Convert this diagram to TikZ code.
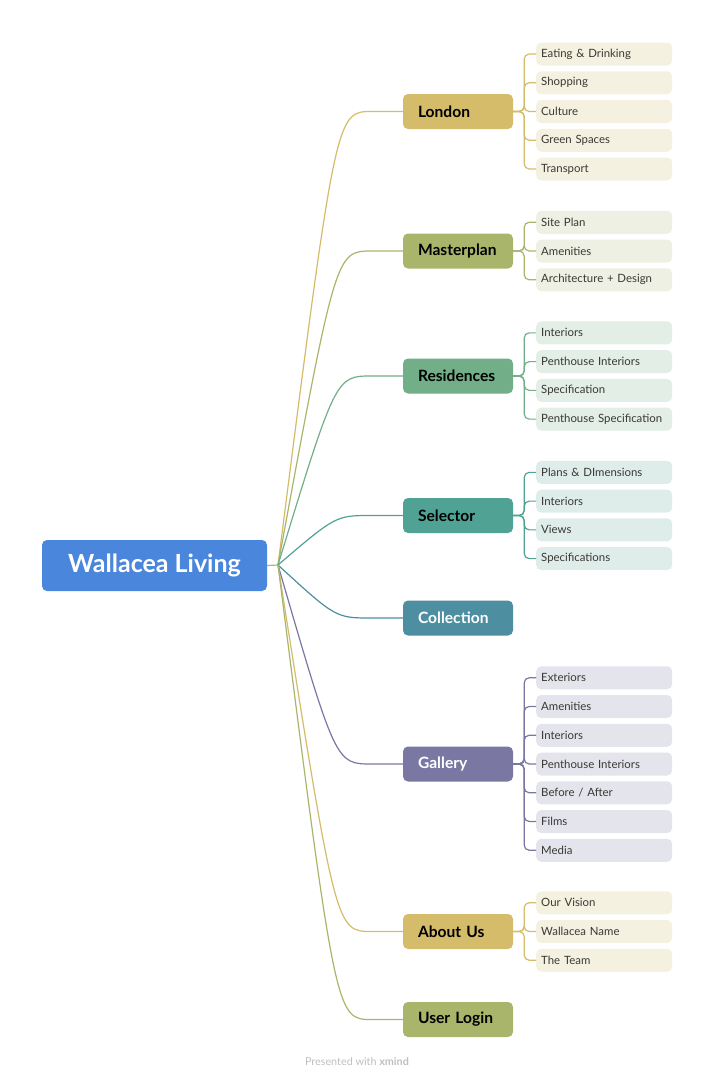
\documentclass[tikz,border=0pt]{standalone}
\usepackage{fontspec}
\setmainfont{Lato}
\usetikzlibrary{positioning, calc}
\definecolor{wlblue}{HTML}{4A86DB}
\definecolor{wlgold}{HTML}{D4BC6A}
\definecolor{wlgoldbg}{HTML}{F5F1E1}
\definecolor{wlolive}{HTML}{A9B56A}
\definecolor{wlolivebg}{HTML}{EEF0E3}
\definecolor{wlgreen}{HTML}{72AE87}
\definecolor{wlgreenbg}{HTML}{E2EEE6}
\definecolor{wlteal}{HTML}{50A294}
\definecolor{wltealbg}{HTML}{DEEDEA}
\definecolor{wlpetrol}{HTML}{4D8FA0}
\definecolor{wlpurple}{HTML}{7A77A3}
\definecolor{wlpurplebg}{HTML}{E4E4EC}
\definecolor{wltext}{HTML}{3A3833}
\tikzset{
  rootbox/.style={
    rectangle, rounded corners=5pt, fill=wlblue, text=white,
    minimum width=225pt, minimum height=51pt,
    font=\fontsize{25}{29}\selectfont\bfseries
  },
  topicbox/.style={
    rectangle, rounded corners=5pt,
    text width=80pt, align=left, inner xsep=15pt,
    minimum height=35pt,
    font=\fontsize{15.6}{18}\selectfont\bfseries
  },
  subbox/.style={
    rectangle, rounded corners=5pt, text=wltext,
    text width=126pt, align=left, inner xsep=5pt, inner ysep=0pt,
    minimum height=23pt,
    font=\fontsize{11.4}{13}\selectfont
  },
  branch/.style={line width=1.2pt},
  bracket/.style={line width=1.2pt, rounded corners=5pt},
}

\begin{document}
\begin{tikzpicture}[x=1pt, y=-1pt]
  \useasboundingbox (0,0) rectangle (715,1080);

  \node[rootbox] (root) at (154.5,565.5) {Wallacea Living};
  \coordinate (hub) at (278,565);

  % main topics
  \node[topicbox, fill=wlgold]                (london)  at (458,111.5) {London};
  \node[topicbox, fill=wlolive]               (master)  at (458,251)   {Masterplan};
  \node[topicbox, fill=wlgreen]               (resid)   at (458,376)   {Residences};
  \node[topicbox, fill=wlteal]                (select)  at (458,515.5) {Selector};
  \node[topicbox, fill=wlpetrol, text=white]  (collect) at (458,618)   {Collection};
  \node[topicbox, fill=wlpurple, text=white]  (gallery) at (458,764)   {Gallery};
  \node[topicbox, fill=wlgold]                (about)   at (458,931.5) {About Us};
  \node[topicbox, fill=wlolive]               (login)   at (458,1019.5){User Login};

  % curves from the hub
  \draw[branch, draw=wlolive!80!wlgold] (root.east) -- (hub);
  \foreach \t/\c in {london/wlgold, master/wlolive, resid/wlgreen, select/wlteal,
                     collect/wlpetrol, gallery/wlpurple, about/wlgold, login/wlolive}
    \draw[branch, draw=\c] (hub) .. controls ([xshift=-67]\t.west) and ([xshift=-67]\t.west)
      .. ([xshift=-31]\t.west) -- (\t.west);

  % subtopics
  \foreach \s [count=\i] in {Eating \& Drinking, Shopping, Culture, Green Spaces, Transport} {
    \node[subbox, fill=wlgoldbg] (london-\i) at ($(london.east)+(91,{(\i-3)*28.75})$) {\s};
    \draw[bracket, draw=wlgold] (london.east) -- ++(11,0) |- (london-\i.west);
  }
  \foreach \s [count=\i] in {Site Plan, Amenities, Architecture + Design} {
    \node[subbox, fill=wlolivebg] (master-\i) at ($(master.east)+(91,{(\i-2)*28.75})$) {\s};
    \draw[bracket, draw=wlolive] (master.east) -- ++(11,0) |- (master-\i.west);
  }
  \foreach \s [count=\i] in {Interiors, Penthouse Interiors, Specification, Penthouse Specification} {
    \node[subbox, fill=wlgreenbg] (resid-\i) at ($(resid.east)+(91,{(\i-2.5)*28.75})$) {\s};
    \draw[bracket, draw=wlgreen] (resid.east) -- ++(11,0) |- (resid-\i.west);
  }
  \foreach \s [count=\i] in {Plans \& DImensions, Interiors, Views, Specifications} {
    \node[subbox, fill=wltealbg] (select-\i) at ($(select.east)+(91,{(\i-2.5)*28.75})$) {\s};
    \draw[bracket, draw=wlteal] (select.east) -- ++(11,0) |- (select-\i.west);
  }
  \foreach \s [count=\i] in {Exteriors, Amenities, Interiors, Penthouse Interiors, Before / After, Films, Media} {
    \node[subbox, fill=wlpurplebg] (gallery-\i) at ($(gallery.east)+(91,{(\i-4)*28.75})$) {\s};
    \draw[bracket, draw=wlpurple] (gallery.east) -- ++(11,0) |- (gallery-\i.west);
  }
  \foreach \s [count=\i] in {Our Vision, Wallacea Name, The Team} {
    \node[subbox, fill=wlgoldbg] (about-\i) at ($(about.east)+(91,{(\i-2)*28.75})$) {\s};
    \draw[bracket, draw=wlgold] (about.east) -- ++(11,0) |- (about-\i.west);
  }

  \node[text=black!25, font=\fontsize{10.8}{12}\selectfont] (footer) at (357,1062)
    {Presented with \textbf{xmind}};
\end{tikzpicture}
\end{document}
